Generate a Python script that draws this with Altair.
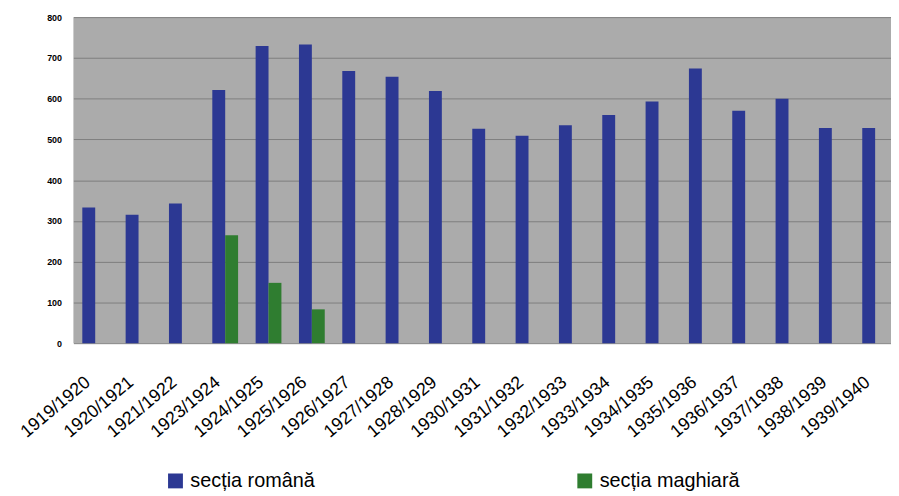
import altair as alt
import pandas as pd

years = ["1919/1920", "1920/1921", "1921/1922", "1923/1924", "1924/1925", "1925/1926",
         "1926/1927", "1927/1928", "1928/1929", "1930/1931", "1931/1932", "1932/1933",
         "1933/1934", "1934/1935", "1935/1936", "1936/1937", "1937/1938", "1938/1939",
         "1939/1940"]
romana = [333, 315, 343, 621, 729, 733, 668, 654, 619, 526, 509, 535, 560, 593, 674, 570, 600, 528, 528]
maghiara_years = ["1923/1924", "1924/1925", "1925/1926"]
maghiara = [265, 148, 83]
series = ["secția română", "secția maghiară"]
colors = ["#2c3893", "#2f7d30"]
y_ticks = [0, 100, 200, 300, 400, 500, 600, 700, 800]

rows = [{"an": a, "serie": series[0], "valoare": v} for a, v in zip(years, romana)]
rows += [{"an": a, "serie": series[1], "valoare": v} for a, v in zip(maghiara_years, maghiara)]
df = pd.DataFrame(rows)

chart = alt.Chart(df).mark_bar().encode(
    x=alt.X("an:N", sort=years, title=None,
            scale=alt.Scale(paddingInner=0.405, paddingOuter=0.137, align=0.75),
            axis=alt.Axis(labelAngle=-40, labelAlign="right", labelBaseline="top",
                          labelFontSize=18, labelFont="Liberation Sans", labelColor="black",
                          labelPadding=30, labelOffset=-13, ticks=False, domain=False,
                          grid=False, labelOverlap=False)),
    xOffset=alt.XOffset("serie:N", scale=alt.Scale(domain=series, paddingInner=0, paddingOuter=0)),
    y=alt.Y("valoare:Q", title=None,
            scale=alt.Scale(domain=[0, 800], nice=False),
            axis=alt.Axis(values=y_ticks, labelFontSize=9, labelFontWeight="bold",
                          labelFont="Liberation Sans", labelColor="black",
                          labelPadding=12, ticks=False, domain=False,
                          grid=True, gridColor="#7e7e7e", gridWidth=1)),
    color=alt.Color("serie:N", scale=alt.Scale(domain=series, range=colors),
                    legend=alt.Legend(title=None, orient="none", legendX=93, legendY=458,
                                      direction="horizontal", symbolType="square",
                                      symbolSize=225, symbolStrokeWidth=0,
                                      labelFontSize=20, labelFont="Liberation Sans",
                                      labelColor="black", columnPadding=262,
                                      symbolOffset=0, labelOffset=5)),
).properties(
    width=825, height=329,
    background="white",
    autosize=alt.AutoSizeParams(type="none"),
    padding={"left": 66, "top": 7, "right": 0, "bottom": 152},
).configure_view(fill="#ababab", stroke=None)

chart.save("out.html", embed_options={"renderer": "svg", "actions": False})
